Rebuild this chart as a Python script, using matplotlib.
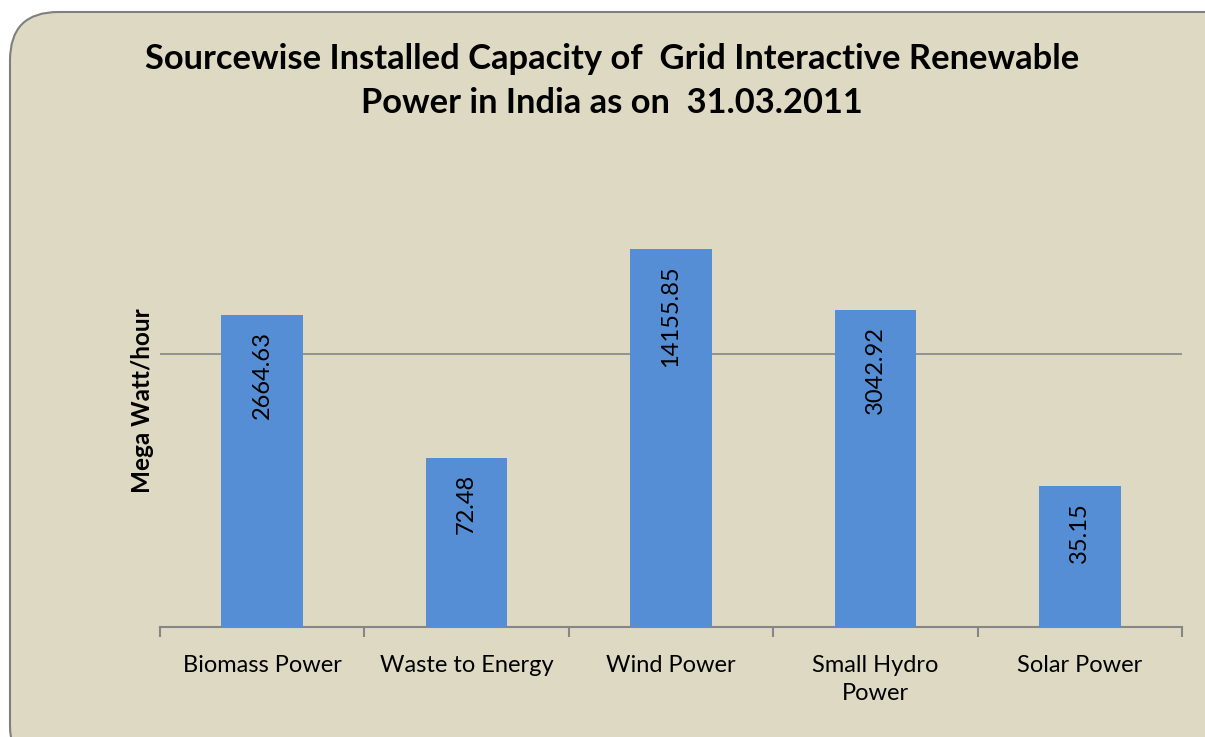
import numpy as np
import matplotlib.pyplot as plt
from matplotlib.patches import FancyBboxPatch

sources = ["Biomass Power", "Waste to Energy", "Wind Power", "Small Hydro\nPower", "Solar Power"]
capacity = [2664.63, 72.48, 14155.85, 3042.92, 35.15]
value_labels = ["2664.63", "72.48", "14155.85", "3042.92", "35.15"]

BG = "#DDD9C3"
BAR = "#558ED5"
GREY = "#868686"
FONT = ["Lato", "DejaVu Sans"]

plt.rcParams["font.family"] = FONT

W, H = 1205, 737
fig = plt.figure(figsize=(W / 100, H / 100), dpi=100)
fig.patch.set_facecolor("white")

# rounded chart area that runs off the right/bottom edge
box = FancyBboxPatch((10 / W, -0.05), 1.05, 1 - 12 / H + 0.05,
                     boxstyle="round,pad=0,rounding_size=0.04",
                     transform=fig.transFigure, facecolor=BG,
                     edgecolor="#7F7F7F", linewidth=1.5, zorder=-5,
                     mutation_aspect=W / H)
fig.patches.append(box)

y_top = 10 ** 4.8
px_bottom, px_top = 627, 627 - 4.8 * 91
ax = fig.add_axes([160 / W, 1 - px_bottom / H, (1182 - 160) / W, (px_bottom - px_top) / H])
ax.set_facecolor("none")
ax.set_zorder(2)

x = np.arange(len(sources))
bars = ax.bar(x, capacity, width=0.4, color=BAR, zorder=3)
ax.set_yscale("log")
ax.set_ylim(1, y_top)
ax.set_xlim(-0.5, len(sources) - 0.5)

# single gridline at 1000, as in the original
ax.axhline(1000, color=GREY, linewidth=1.2, zorder=1)

ax.set_yticks([])
ax.yaxis.set_minor_locator(plt.NullLocator())
ax.set_xticks(x)
ax.set_xticklabels(sources, fontsize=17, linespacing=1.45)
ax.tick_params(axis="x", length=0, pad=20)
ax.set_xticks(np.arange(-0.5, len(sources)), minor=True)
ax.tick_params(axis="x", which="minor", length=7, color=GREY, width=1.5)

for s in ["top", "right", "left"]:
    ax.spines[s].set_visible(False)
ax.spines["bottom"].set_color(GREY)
ax.spines["bottom"].set_linewidth(1.5)

for b, lab in zip(bars, value_labels):
    ax.annotate(lab, (b.get_x() + b.get_width() / 2, b.get_height()),
                xytext=(0, -11.5), textcoords="offset points",
                rotation=90, ha="center", va="top", fontsize=17, zorder=4)

fig.text(143 / W, 1 - 401 / H, "Mega Watt/hour", rotation=90, fontsize=17.5,
         fontweight="bold", ha="center", va="center")

fig.text(612 / W, 1 - 81 / H,
         "Sourcewise Installed Capacity of  Grid Interactive Renewable\nPower in India as on  31.03.2011",
         fontsize=24.8, fontweight="bold", ha="center", va="center", linespacing=1.45)

fig.savefig("out.png", dpi=100, facecolor=fig.get_facecolor())
